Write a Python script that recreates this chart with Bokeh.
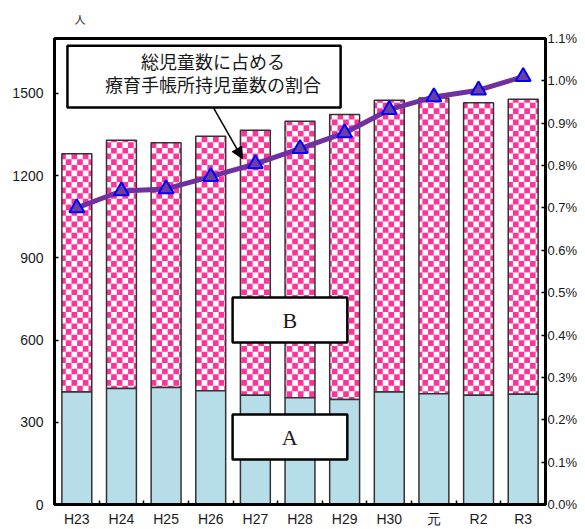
import math
import numpy as np
from bokeh.plotting import figure
from bokeh.models import (Range1d, LinearAxis, FixedTicker, PrintfTickFormatter,
                          BoxAnnotation, Label, Arrow, NormalHead, ColumnDataSource)
from bokeh.embed import file_html
from bokeh.resources import INLINE

# ---- data ----
categories = ["H23", "H24", "H25", "H26", "H27", "H28", "H29", "H30", "元", "R2", "R3"]
series_a = [410, 423, 427, 415, 399, 389, 383, 410, 404, 399, 402]
series_b = [870, 906, 893, 928, 966, 1009, 1040, 1065, 1079, 1067, 1076]
ratio_pct = [0.70, 0.74, 0.745, 0.774, 0.804, 0.84, 0.877, 0.932, 0.962, 0.978, 1.01]
left_ticks = [0, 300, 600, 900, 1200, 1500]
right_ticks = [0.0, 0.1, 0.2, 0.3, 0.4, 0.5, 0.6, 0.7, 0.8, 0.9, 1.0, 1.1]
note_lines = ["総児童数に占める", "療育手帳所持児童数の割合"]
label_a = "A"
label_b = "B"
unit_label = "人"

# ---- layout constants ----
W, H = 585, 529
BL, BR, BT, BB = 54, 40, 38, 25
FRAME_W = W - BL - BR
FRAME_H = H - BT - BB
Y_MAX = 1700
P_MAX = 1.1
BAR_W = 0.67
CELL_PX = 5.66

n = len(categories)
xs = np.arange(n) + 0.5
a = np.array(series_a, dtype=float)
tot = a + np.array(series_b, dtype=float)

src = ColumnDataSource(dict(x=xs, a=a, top=tot, r=ratio_pct))

# checkerboard cells for series B (global grid, clipped to each bar)
cw = CELL_PX * n / FRAME_W
ch = CELL_PX * Y_MAX / FRAME_H
ql, qr, qb, qt = [], [], [], []
for xc, lo, hi in zip(xs, a, tot):
    left, right = xc - BAR_W / 2, xc + BAR_W / 2
    for m in range(math.floor(left / cw), math.ceil(right / cw)):
        x0, x1 = max(m * cw, left), min((m + 1) * cw, right)
        if x1 <= x0:
            continue
        for k in range(math.floor(lo / ch), math.ceil(hi / ch)):
            if (m + k) % 2:
                continue
            y0, y1 = max(k * ch, lo), min((k + 1) * ch, hi)
            if y1 <= y0:
                continue
            ql.append(x0); qr.append(x1); qb.append(y0); qt.append(y1)

p = figure(width=W, height=H, output_backend="svg", toolbar_location=None,
           x_range=Range1d(0, n), y_range=Range1d(0, Y_MAX),
           min_border_left=BL, min_border_right=BR, min_border_top=BT, min_border_bottom=BB)
p.extra_y_ranges = {"pct": Range1d(0, P_MAX)}
p.xgrid.visible = False
p.ygrid.visible = False
p.background_fill_color = "white"
p.border_fill_color = "white"
p.outline_line_color = "black"
p.outline_line_width = 3

TICK_FONT = "Liberation Sans"

# bottom axis
xa = p.xaxis[0]
xa.ticker = FixedTicker(ticks=list(xs), minor_ticks=list(range(1, n)))
xa.major_label_overrides = {float(x): c for x, c in zip(xs, categories)}
xa.major_tick_in = 0
xa.major_tick_out = 0
xa.minor_tick_in = 4
xa.minor_tick_out = 0
xa.minor_tick_line_color = "black"
xa.minor_tick_line_width = 1.5
xa.axis_line_width = 3
xa.major_label_standoff = 6
xa.major_label_text_font = TICK_FONT
xa.major_label_text_font_size = "14px"
xa.major_label_text_color = "#1a1a1a"

# left axis
ya = p.yaxis[0]
ya.ticker = FixedTicker(ticks=left_ticks)
ya.major_tick_in = 4
ya.major_tick_out = 0
ya.major_tick_line_width = 1.5
ya.minor_tick_line_color = None
ya.axis_line_width = 3
ya.major_label_standoff = 11
ya.major_label_text_font = TICK_FONT
ya.major_label_text_font_size = "14px"
ya.major_label_text_color = "#1a1a1a"

# right axis
ra = LinearAxis(y_range_name="pct", ticker=FixedTicker(ticks=right_ticks),
                formatter=PrintfTickFormatter(format="%.1f%%"))
ra.major_tick_in = 4
ra.major_tick_out = 0
ra.major_tick_line_width = 1.5
ra.minor_tick_line_color = None
ra.minor_tick_out = 0
ra.axis_line_width = 3
ra.major_label_standoff = 2
ra.major_label_text_font = TICK_FONT
ra.major_label_text_font_size = "13px"
ra.major_label_text_color = "#1a1a1a"
p.add_layout(ra, "right")

# bars
p.vbar(x="x", width=BAR_W, bottom="a", top="top", source=src,
       fill_color="white", line_color=None)
p.quad(left=ql, right=qr, bottom=qb, top=qt, fill_color="#FF3399", line_color=None)
p.vbar(x="x", width=BAR_W, bottom="a", top="top", source=src,
       fill_color=None, line_color="#333333", line_width=1.5)
p.vbar(x="x", width=BAR_W, bottom=0, top="a", source=src,
       fill_color="#B7DDE8", line_color="#333333", line_width=1.5)

# ratio line
p.line(x="x", y="r", source=src, y_range_name="pct", line_color="#7030A0", line_width=5)
p.scatter(x="x", y="r", source=src, y_range_name="pct", marker="triangle", size=15,
          fill_color="#6B3FA0", line_color="#0000FF", line_width=2)

# callout box
p.add_layout(BoxAnnotation(left=0.29, right=6.41, top=1674, bottom=1448,
                           fill_color="white", fill_alpha=1, line_color="black",
                           line_width=2.5, line_alpha=1))
p.add_layout(Label(x=3.55, y=1617, text=note_lines[0], text_align="center",
                   text_baseline="middle", text_font="Noto Sans CJK JP",
                   text_font_size="18px", text_color="#1a1a1a"))
p.add_layout(Label(x=3.55, y=1534, text=note_lines[1], text_align="center",
                   text_baseline="middle", text_font="Noto Sans CJK JP",
                   text_font_size="18px", text_color="#1a1a1a"))
p.add_layout(Arrow(end=NormalHead(size=11, fill_color="black", line_color="black"),
                   x_start=3.56, y_start=1448, x_end=4.21, y_end=1262,
                   line_color="black", line_width=1.5))

# A / B boxes
for top_v, bot_v, txt in [(755, 591, label_b), (328, 164, label_a)]:
    p.add_layout(BoxAnnotation(left=3.99, right=6.56, top=top_v, bottom=bot_v,
                               fill_color="white", fill_alpha=1, line_color="black",
                               line_width=2.5, line_alpha=1))
    p.add_layout(Label(x=5.27, y=(top_v + bot_v) / 2, text=txt, text_align="center",
                       text_baseline="middle", text_font="Liberation Serif",
                       text_font_size="22px", text_color="#1a1a1a"))

# unit label above the left axis
p.title.text = unit_label
p.title.align = "left"
p.title.offset = 20
p.title.vertical_align = "top"
p.title.standoff = 20
p.title.text_font = "Noto Sans CJK JP"
p.title.text_font_size = "11px"
p.title.text_font_style = "normal"
p.title.text_color = "#1a1a1a"

open("out.html", "w").write(file_html(p, INLINE))
